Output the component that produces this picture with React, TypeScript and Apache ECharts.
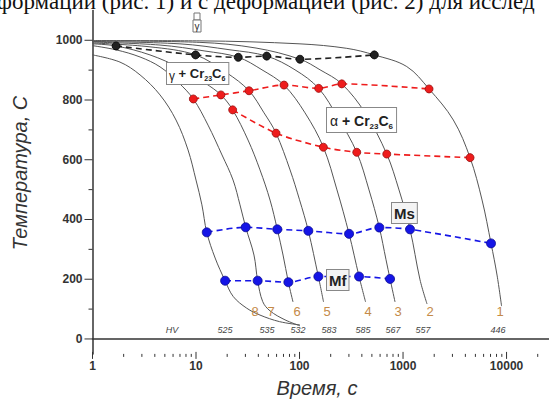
import React, { useEffect, useRef } from 'react';
import * as echarts from 'echarts';

// Cooling curves: [time s, temperature C]
const curve1 = [[1, 999], [10.9, 998], [101, 988], [286, 973], [528, 951], [1086, 912], [1783, 837], [3062, 733], [4440, 607], [5800, 465], [7080, 320], [8090, 214], [8950, 110]];
const curve2 = [[1, 998], [10.9, 993], [38, 974], [101, 936.5], [158, 901], [256, 854], [430, 757], [696, 619], [914, 499], [1168, 367], [1459, 198], [1706, 117]];
const curve3 = [[1, 996], [7, 988], [21.3, 968], [48.2, 947], [90.5, 901], [153, 839], [235.5, 740], [357, 625], [469, 499], [590, 373], [685, 265], [749, 201], [837, 124]];
const curve4 = [[1, 994], [4.49, 984], [12.2, 964], [25.6, 943], [43.4, 901], [70.8, 850], [113, 757], [170, 642], [230, 499], [301, 352], [376, 209], [434.5, 124]];
const curve5 = [[1, 991], [3.59, 978], [9.9, 951], [19.8, 891], [32.5, 831], [45.4, 757], [59.3, 689], [81, 566], [100, 466], [121.6, 362], [152, 209], [170.6, 124]];
const curve6 = [[1, 988], [1.69, 981], [3.59, 951], [7, 907], [12.2, 857], [17.4, 817], [22.6, 767], [31.8, 666], [41.5, 566], [51.9, 465], [61, 367], [69.3, 281], [78, 190], [86.5, 124]];
const curve7 = [[1, 982], [1.69, 968], [2.88, 944], [4.49, 911], [6.7, 860], [9.42, 803.5], [13.06, 716], [17.83, 616], [22.8, 532], [26.6, 449], [30.2, 374], [36.3, 281], [39.4, 195], [44.1, 125], [51.9, 94], [72.4, 64], [101, 44]];
const curve8 = [[1, 951], [1.84, 927], [2.88, 884], [4.49, 817], [6.41, 733], [8.37, 633], [10, 532], [11.4, 449], [12.7, 357], [15.3, 271], [19.1, 195], [22.9, 142], [30.9, 103], [41.5, 80], [64.1, 58], [101, 47]];
const curves = [curve1, curve2, curve3, curve4, curve5, curve6, curve7, curve8];

// Transformation points
const blackDots = [[1.69, 981], [9.9, 951], [25.6, 943], [48.2, 947], [101, 936.5], [528, 951]];
const redUpperDots = [[9.42, 803.5], [17.4, 817], [32.5, 831], [70.8, 850], [153, 839], [256, 854], [1783, 837]];
const redLowerDots = [[22.6, 767], [59.3, 689], [170, 642], [357, 625], [696, 619], [4440, 607]];
const msDots = [[12.7, 357], [30.2, 374], [61, 367], [121.6, 362], [301, 352], [590, 373], [1168, 367], [7080, 320]];
const mfDots = [[19.1, 195], [39.4, 195], [78, 190], [152, 209], [376, 209], [749, 201]];

// Labels
const curveNumbers = ['8', '7', '6', '5', '4', '3', '2', '1'];
const hvValues = ['525', '535', '532', '583', '585', '567', '557', '446'];

// Ticks
const xMajorTicks = [1, 10, 100, 1000, 10000];
const xMinorTicks = [2, 3, 4, 5, 6, 7, 8, 9, 20, 30, 40, 50, 60, 70, 80, 90, 200, 300, 400, 500, 600, 700, 800, 900, 2000, 3000, 4000, 5000, 6000, 7000, 8000, 9000, 20000];
const yMajorTicks = [0, 200, 400, 600, 800, 1000];
const yMinorTicks = [100, 300, 500, 700, 900];

const X_MIN = 1;
const X_MAX = 25704;
const Y_MIN = -50;
const Y_MAX = 1100;

const SANS = '"Liberation Sans", Arial, sans-serif';

export default function App() {
  const ref = useRef<HTMLDivElement>(null);
  useEffect(() => {
    if (!ref.current) return;
    const chart = echarts.init(ref.current, undefined, { renderer: 'svg' });

    const curveXPos = [255, 271, 297, 327, 368, 398, 430, 500];
    const hvXPos = [225, 267, 298, 329, 363, 393, 423, 498];

    const graphic: any[] = [
      {
        type: 'text', x: -3, y: 1, z: 100,
        style: { text: 'формации (рис. 1) и с деформацией (рис. 2) для исслед', font: '23px "Liberation Serif", "Times New Roman", serif', fill: '#111', align: 'left', verticalAlign: 'middle' },
      },
      {
        type: 'text', x: 20, y: 173, rotation: Math.PI / 2, z: 100,
        style: { text: 'Температура, С', font: 'italic 20px ' + SANS, fill: '#333', align: 'center', verticalAlign: 'middle' },
      },
      {
        type: 'text', x: 317, y: 388, z: 100,
        style: { text: 'Время, с', font: 'italic 20px ' + SANS, fill: '#333', align: 'center', verticalAlign: 'middle' },
      },
      { type: 'rect', z: 100, shape: { x: 194, y: 13, width: 6, height: 7 }, style: { fill: '#fff', stroke: '#777', lineWidth: 1 } },
      { type: 'rect', z: 100, shape: { x: 193, y: 20, width: 8, height: 12 }, style: { fill: '#fff', stroke: '#777', lineWidth: 1 } },
      { type: 'text', x: 197, y: 26, z: 101, style: { text: 'γ', font: '10px ' + SANS, fill: '#333', align: 'center', verticalAlign: 'middle' } },
      {
        type: 'text', x: 167, y: 63, z: 100,
        style: {
          text: '{g|γ}{b| + Cr}{s|23}{b|C}{s|6}',
          rich: {
            g: { font: '12px ' + SANS, fill: '#222', lineHeight: 17, verticalAlign: 'bottom' },
            b: { font: 'bold 13px ' + SANS, fill: '#222', lineHeight: 17 },
            s: { font: 'bold 7px ' + SANS, fill: '#222', lineHeight: 8, verticalAlign: 'bottom' },
          },
          backgroundColor: '#fff', borderColor: '#888', borderWidth: 1, padding: [2, 3, 2, 2],
          align: 'left', verticalAlign: 'top',
        },
      },
      {
        type: 'text', x: 327, y: 108, z: 100,
        style: {
          text: '{g|α}{b| + Cr}{s|23}{b|C}{s|6}',
          rich: {
            g: { font: '14px ' + SANS, fill: '#222', lineHeight: 19 },
            b: { font: 'bold 14px ' + SANS, fill: '#222', lineHeight: 19 },
            s: { font: 'bold 8px ' + SANS, fill: '#222', lineHeight: 8, verticalAlign: 'bottom' },
          },
          backgroundColor: '#fff', borderColor: '#888', borderWidth: 1, padding: [3, 3, 2, 3],
          align: 'left', verticalAlign: 'top',
        },
      },
      {
        type: 'text', x: 392, y: 203, z: 100,
        style: { text: 'Ms', font: 'bold 15px ' + SANS, fill: '#222', lineHeight: 17, backgroundColor: '#f4f4f4', borderColor: '#888', borderWidth: 1, padding: [2, 2, 1, 2], align: 'left', verticalAlign: 'top' },
      },
      {
        type: 'text', x: 327, y: 270, z: 100,
        style: { text: 'Mf', font: 'bold 15px ' + SANS, fill: '#222', lineHeight: 17, backgroundColor: '#f4f4f4', borderColor: '#888', borderWidth: 1, padding: [2, 2, 1, 2], align: 'left', verticalAlign: 'top' },
      },
      {
        type: 'text', x: 172, y: 330, z: 100,
        style: { text: 'HV', font: 'italic 9px ' + SANS, fill: '#444', align: 'center', verticalAlign: 'middle' },
      },
    ];
    curveNumbers.forEach((n, i) => {
      graphic.push({
        type: 'text', x: curveXPos[i], y: 311, z: 100,
        style: { text: n, font: '13px ' + SANS, fill: '#c48a48', align: 'center', verticalAlign: 'middle' },
      });
    });
    hvValues.forEach((v, i) => {
      graphic.push({
        type: 'text', x: hvXPos[i], y: 330, z: 100,
        style: { text: v, font: 'italic 9px ' + SANS, fill: '#444', align: 'center', verticalAlign: 'middle' },
      });
    });

    const dashed = (data: number[][], color: string, border: string, size: number) => ({
      type: 'line', data, smooth: 0.3, symbol: 'circle', symbolSize: size, showSymbol: true,
      itemStyle: { color, borderColor: border, borderWidth: 0.8 },
      lineStyle: { color, width: 1.6, type: [6, 4] },
      z: 5, silent: true,
    });

    const series: any[] = curves.map((c) => ({
      type: 'line', data: c, smooth: 0.35, showSymbol: false, symbol: 'none',
      lineStyle: { color: '#555', width: 1 }, z: 2, silent: true,
    }));
    series.push(dashed(blackDots, '#222', '#000', 8));
    series.push(dashed(redUpperDots, '#ee1c1c', '#991010', 8));
    series.push(dashed(redLowerDots, '#ee1c1c', '#991010', 8));
    series.push(dashed(msDots, '#1515e6', '#0a0a90', 9));
    series.push(dashed(mfDots, '#1515e6', '#0a0a90', 9));

    series.push({
      type: 'custom', coordinateSystem: 'cartesian2d', clip: false, silent: true, z: 10,
      data: [...xMajorTicks.map((v) => [v, Y_MIN, 1]), ...xMinorTicks.map((v) => [v, Y_MIN, 0])],
      renderItem: (params: any, api: any) => {
        const v = api.value(0);
        const major = api.value(2) === 1;
        const p = api.coord([v, Y_MIN]);
        const children: any[] = [{
          type: 'line',
          shape: { x1: p[0], y1: p[1] - (major ? 2 : 0), x2: p[0], y2: p[1] + (major ? 5 : 3) },
          style: { stroke: '#333', lineWidth: 1 },
        }];
        if (major) {
          children.push({
            type: 'text',
            style: { text: String(v), x: p[0], y: p[1] + 12, align: 'center', verticalAlign: 'middle', font: 'bold 12px ' + SANS, fill: '#333' },
          });
        }
        return { type: 'group', children };
      },
    });
    series.push({
      type: 'custom', coordinateSystem: 'cartesian2d', clip: false, silent: true, z: 10,
      data: [...yMajorTicks.map((v) => [X_MIN, v, 1]), ...yMinorTicks.map((v) => [X_MIN, v, 0])],
      renderItem: (params: any, api: any) => {
        const v = api.value(1);
        const major = api.value(2) === 1;
        const p = api.coord([X_MIN, v]);
        const children: any[] = [{
          type: 'line',
          shape: { x1: p[0], y1: p[1], x2: p[0] - (major ? 8 : 4), y2: p[1] },
          style: { stroke: '#333', lineWidth: 1 },
        }];
        if (major) {
          children.push({
            type: 'text',
            style: { text: String(v), x: p[0] - 10, y: p[1], align: 'right', verticalAlign: 'middle', font: 'bold 12px ' + SANS, fill: '#333' },
          });
        }
        return { type: 'group', children };
      },
    });

    chart.setOption({
      animation: false,
      backgroundColor: '#fff',
      grid: { left: 92.5, right: 0, top: 10.4, bottom: 49.1, containLabel: false },
      xAxis: {
        type: 'log', logBase: 10, min: X_MIN, max: X_MAX,
        axisLine: { show: true, lineStyle: { color: '#333', width: 1.5 } },
        axisTick: { show: false }, axisLabel: { show: false }, splitLine: { show: false }, minorTick: { show: false },
      },
      yAxis: {
        type: 'value', min: Y_MIN, max: Y_MAX,
        axisLine: { show: true, lineStyle: { color: '#333', width: 1.5 } },
        axisTick: { show: false }, axisLabel: { show: false }, splitLine: { show: false },
      },
      series,
      graphic,
    });
    return () => chart.dispose();
  }, []);
  return <div ref={ref} style={{ position: 'absolute', left: 0, top: 0, width: 549, height: 403 }} />;
}
